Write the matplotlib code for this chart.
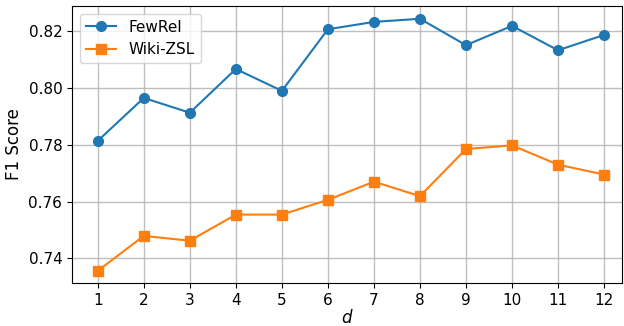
import numpy as np
import matplotlib
matplotlib.use("Agg")
import matplotlib.pyplot as plt

d = [1, 2, 3, 4, 5, 6, 7, 8, 9, 10, 11, 12]
fewrel = [0.7814, 0.7965, 0.7913, 0.8067, 0.7990, 0.8207, 0.8233, 0.8244, 0.8151, 0.8219, 0.8133, 0.8187]
wikizsl = [0.7356, 0.7479, 0.7462, 0.7554, 0.7554, 0.7606, 0.7670, 0.7619, 0.7785, 0.7798, 0.7730, 0.7695]

fig = plt.figure(figsize=(6.24, 3.26), dpi=100)
ax = fig.add_axes([0.1154, 0.1319, 0.8814, 0.8497])

ax.plot(d, fewrel, marker='o', markersize=7, color='#1f77b4', label='FewRel')
ax.plot(d, wikizsl, marker='s', markersize=7, color='#ff7f0e', label='Wiki-ZSL')

ax.set_xticks(d)
ax.set_xlim(0.44, 12.39)
ax.set_ylim(0.7313, 0.8289)
ax.set_yticks([0.74, 0.76, 0.78, 0.80, 0.82])
ax.tick_params(labelsize=11)
ax.set_xlabel('$d$', fontsize=12, labelpad=1)
ax.set_ylabel('F1 Score', fontsize=12, labelpad=4)
ax.grid(True, color='#b0b0b0', linewidth=1, alpha=0.8)
ax.legend(loc='upper left', fontsize=11)

fig.savefig('out.png', dpi=100)
